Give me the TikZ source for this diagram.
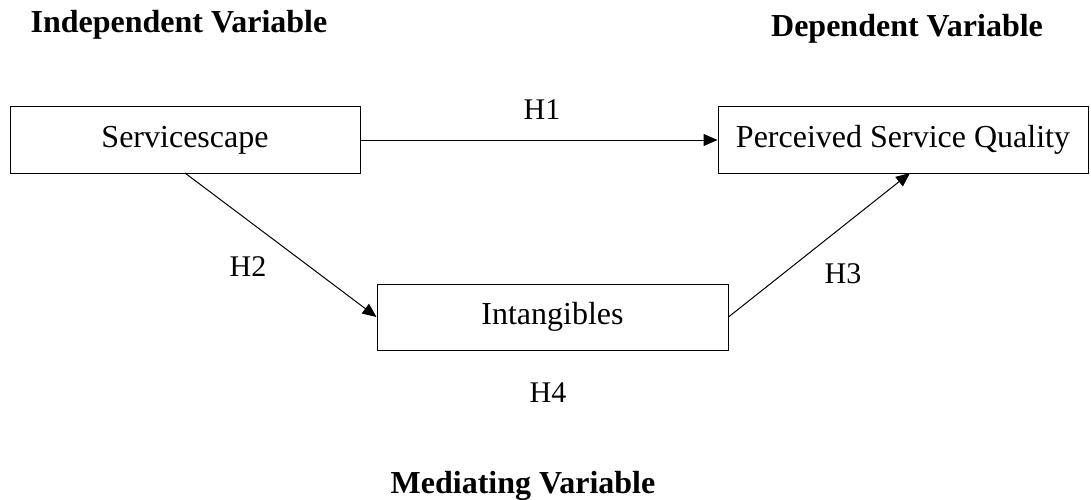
\documentclass[tikz,border=0pt]{standalone}
\usepackage{fontspec}
\setmainfont{Liberation Serif}
\usetikzlibrary{arrows.meta}
\begin{document}
\begin{tikzpicture}[x=1pt,y=-1pt,
  box/.style={draw, line width=1pt, inner sep=0pt, font=\fontsize{32}{36}\selectfont},
  lbl/.style={font=\fontsize{30}{34}\selectfont, inner sep=0pt, anchor=base},
  head/.style={font=\fontsize{32}{36}\selectfont\bfseries, inner sep=0pt, anchor=base},
  conn/.style={line width=1pt, -{Triangle[length=14pt,width=12pt]}}]
\useasboundingbox (0,0) rectangle (1091,500);
\node[box, minimum width=350pt, minimum height=66pt] (s) at (185,140) {Servicescape};
\node[box, minimum width=370pt, minimum height=66pt] (p) at (903,140) {Perceived Service Quality};
\node[box, minimum width=351pt, minimum height=66pt] (i) at (552.5,317) {Intangibles};
\coordinate (sb) at (185,173);
\coordinate (pb) at (910,173);
\draw[conn] (s.east) -- (p.west);
\draw[conn] (sb) -- (i.west);
\draw[conn] (i.east) -- (pb);
\node[lbl] (h1) at (542,120) {H1};
\node[lbl] (h2) at (248,276) {H2};
\node[lbl] (h3) at (843,283) {H3};
\node[lbl] (h4) at (548,402) {H4};
\node[head] (iv) at (179,33) {Independent Variable};
\node[head] (dv) at (907,37) {Dependent Variable};
\node[head] (mv) at (523,493) {Mediating Variable};
\end{tikzpicture}
\end{document}
